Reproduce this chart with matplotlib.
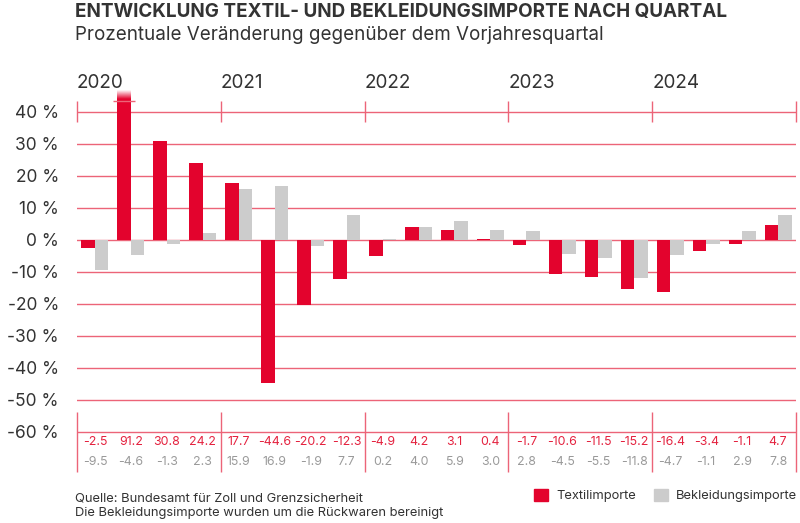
# -*- coding: utf-8 -*-
"""
Entwicklung Textil- und Bekleidungsimporte nach Quartal
"""

import numpy as np
import matplotlib.pyplot as plt
from matplotlib.patches import Patch

#%% data

years = ['2020', '2021', '2022', '2023', '2024']
textil = [-2.5, 91.2, 30.8, 24.2, 17.7, -44.6, -20.2, -12.3, -4.9, 4.2,
          3.1, 0.4, -1.7, -10.6, -11.5, -15.2, -16.4, -3.4, -1.1, 4.7]
bekleidung = [-9.5, -4.6, -1.3, 2.3, 15.9, 16.9, -1.9, 7.7, 0.2, 4.0,
              5.9, 3.0, 2.8, -4.5, -5.5, -11.8, -4.7, -1.1, 2.9, 7.8]
yticks = [-60, -50, -40, -30, -20, -10, 0, 10, 20, 30, 40]

#%% style

RED = '#e3032d'
RED_TXT = '#e4223f'
GRID = '#ec6478'
GREY = '#cccccc'
GREY_TXT = '#9a9a9a'
DARK = '#333333'

plt.rcParams['font.family'] = ['Inter', 'DejaVu Sans']

W, H = 800, 523
y_max, y_min = 47, -75
fig = plt.figure(figsize=(W / 100, H / 100), dpi=100)
# axes covers plot + table area, 3.2 px per percent point, 0 % at 240 px
ax = fig.add_axes([77 / W, (H - 480) / H, (796 - 77) / W, (480 - 89.6) / H])

n = len(textil)
x = np.arange(n) + 0.5
w = 0.375

#%% bars

ax.bar(x - w / 2, textil, w, color=RED, zorder=3)
ax.bar(x + w / 2, bekleidung, w, color=GREY, zorder=3)

# fade out and break marker for bars beyond the scale
fade = np.zeros((60, 1, 4))
fade[..., :3] = 1
fade[:, 0, 3] = np.linspace(0, 1, 60)
for i, v in enumerate(textil):
    if v > yticks[-1] + 5:
        xl = x[i] - w
        ax.imshow(fade, extent=[xl, xl + w, 44.2, y_max], origin='lower',
                  aspect='auto', zorder=4, interpolation='bilinear')
        ax.hlines(43.4, xl - 0.11, xl + w + 0.11, color=GRID, lw=1, zorder=5)

#%% axes, grid, year scale

ax.set_xlim(0, n)
ax.set_ylim(y_min, y_max)
ax.set_xticks([])
ax.set_yticks(yticks)
ax.set_yticklabels(['{} %'.format(t) for t in yticks])
ax.tick_params(axis='y', length=0, pad=13, labelsize=12.5, labelcolor=DARK)
ax.grid(axis='y', color=GRID, lw=1, zorder=1)
for s in ax.spines.values():
    s.set_visible(False)

bounds = np.arange(0, n + 1, 4)
ax.vlines(bounds, 36.9, 43.4, color=GRID, lw=1, clip_on=False)
for b, yr in zip(bounds, years):
    ax.text(b, 49, yr, ha='left', va='center', fontsize=13.6, color=DARK,
            clip_on=False)

#%% table of values

ax.vlines(bounds, -72.5, -53.75, color=GRID, lw=1, clip_on=False)
for i in range(n):
    ax.text(x[i], -63.1, '{:.1f}'.format(textil[i]), ha='center',
            va='center', fontsize=8.9, color=RED_TXT)
    ax.text(x[i], -69.4, '{:.1f}'.format(bekleidung[i]), ha='center',
            va='center', fontsize=8.9, color=GREY_TXT)

#%% titles, footer, legend

title = fig.text(75 / W, 1 - 17.5 / H,
                 'ENTWICKLUNG TEXTIL- UND BEKLEIDUNGSIMPORTE NACH QUARTAL',
                 fontsize=11.8, fontweight='bold', color=DARK, va='baseline')
sub = fig.text(75 / W, 1 - 40 / H,
               'Prozentuale Veränderung gegenüber dem Vorjahresquartal',
               fontsize=11.3, color=DARK, va='baseline')

# the original typeface runs wider, so stretch the size to a similar width
fig.canvas.draw()
rend = fig.canvas.get_renderer()
for t, width_px in [(title, 652), (sub, 528)]:
    bb = t.get_window_extent(renderer=rend)
    t.set_fontsize(t.get_fontsize() * width_px / bb.width)

fig.text(75 / W, 1 - 501 / H, 'Quelle: Bundesamt für Zoll und Grenzsicherheit',
         fontsize=9.3, color=DARK, va='baseline')
fig.text(75 / W, 1 - 516 / H,
         'Die Bekleidungsimporte wurden um die Rückwaren bereinigt',
         fontsize=9.3, color=DARK, va='baseline')

handles = [Patch(color=RED, label='Textilimporte'),
           Patch(color=GREY, label='Bekleidungsimporte')]
leg = fig.legend(handles=handles, loc='center right',
                 bbox_to_anchor=(797 / W, 1 - 495.5 / H), ncol=2,
                 frameon=False, fontsize=9.3, handlelength=1.1,
                 handleheight=1.1, handletextpad=0.6, columnspacing=1.4,
                 borderpad=0, borderaxespad=0)
for t in leg.get_texts():
    t.set_color(DARK)

plt.savefig('out.png', dpi=100)
